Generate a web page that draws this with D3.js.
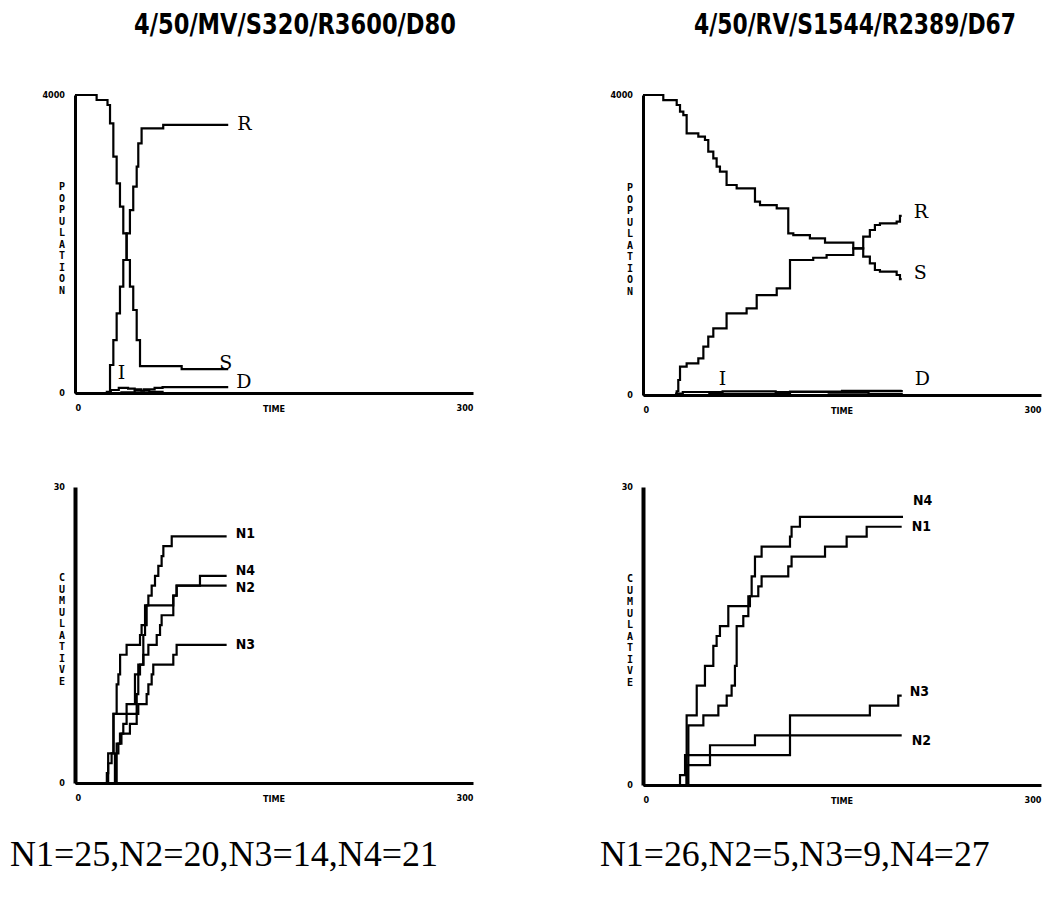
<!DOCTYPE html>
<html><head><meta charset="utf-8">
<script src="https://cdn.jsdelivr.net/npm/d3@7"></script>
<style>body{margin:0;background:#fff}svg{display:block}</style>
</head><body><svg id="c" width="1045" height="903"></svg>
<script>
// ---------- DATA ----------
const titles = ["4/50/MV/S320/R3600/D80", "4/50/RV/S1544/R2389/D67"];
const footers = ["N1=25,N2=20,N3=14,N4=21", "N1=26,N2=5,N3=9,N4=27"];
const timeTicks = [0, 300];
const timeLabel = "TIME";
const popTicks = [0, 4000];
const cumTicks = [0, 30];
const popAxisLabel = "POPULATION";
const cumAxisLabel = "CUMULATIVE";

// top-left (MV): [time, count]
const mvS = [[0,4000],[16.3,3933],[24.5,3866],[26.4,3620],[28.9,3172],[31.4,2814],[33.9,2501],[36.4,2143],[38.9,1785],[41.4,1427],[43.9,1114],[46.5,711],[49,360],[80.4,320],[115.5,320]];
const mvR = [[0,0],[26.4,376],[28.9,711],[31.4,1069],[33.9,1427],[36.4,1785],[38.9,2143],[41.4,2456],[43.9,2769],[46.5,3038],[47.7,3351],[50.2,3553],[66.5,3600],[115.5,3600]];
const mvI = [[0,0],[24,15],[27,40],[33,70],[40,60],[45,50],[50,30],[56,15],[66,0],[115.5,0]];
const mvD = [[0,0],[35,10],[45,30],[52,50],[60,70],[66,80],[115.5,80]];

// top-right (RV)
const rvS = [[0,4000],[15.3,3933],[25.4,3867],[27.9,3778],[30.4,3733],[32.9,3489],[41.7,3444],[46.7,3400],[49.2,3244],[53,3156],[55.5,3044],[58,2978],[63,2800],[70.6,2756],[84.4,2578],[88.2,2533],[100.8,2489],[109.5,2156],[113.3,2133],[125.8,2089],[137.2,2031],[158.5,1956],[166,1844],[171,1756],[174.8,1667],[178.6,1644],[191.2,1600],[193.7,1544],[195,1544]];
const rvR = [[0,0],[25.4,50],[26.6,200],[27.9,378],[32.9,422],[41.7,489],[45.5,644],[49.2,778],[53,889],[63,1089],[78.1,1156],[85.7,1333],[100.8,1422],[110.8,1800],[128.3,1830],[138.4,1867],[158.5,1956],[166,2111],[171,2200],[174.8,2267],[178.6,2289],[191.2,2311],[193.7,2389],[195,2389]];
const rvI = [[0,0],[25,20],[30,40],[60,50],[100,40],[140,30],[170,15],[195,0]];
const rvD = [[0,0],[50,15],[110.8,45],[150,55],[195,67]];

// bottom-left (MV) cumulative
const mvN1 = [[0,0],[25,2],[27.6,3],[29,7],[31.4,10],[32.7,11],[34,13],[38.9,14],[49,15],[50.2,16],[52.8,18],[55.3,19],[57.8,20],[60.3,21],[62.8,22],[65.3,23],[66.6,24],[72.9,25],[114.3,25]];
const mvN2 = [[0,0],[31.4,4],[33.9,5],[36.4,6],[38.9,8],[45.2,11],[47.7,12],[51.5,13],[55.3,14],[61.6,15],[64.1,16],[65.3,17],[74.1,19],[76.6,20],[114.3,20]];
const mvN3 = [[0,0],[30.1,3],[32.7,4],[35,5],[41.4,6],[46.5,7],[47.7,8],[54,9],[55.3,10],[57.8,11],[59,12],[74.1,13],[76.6,14],[114.3,14]];
const mvN4 = [[0,0],[24,1],[25,3],[29,7],[46.5,9],[47.7,11],[49,12],[51.5,15],[52.8,16],[54,18],[74.1,19],[76.6,20],[94.2,21],[114.3,21]];

// bottom-right (RV) cumulative
const rvN1 = [[0,0],[34.2,6],[45.5,7],[56.8,8],[63.1,9],[66.8,10],[69.3,12],[70.6,16],[75.6,17],[79.4,19],[86.9,20],[89.4,21],[109.5,22],[112,23],[137.2,24],[153.5,25],[168.6,26],[195,26]];
const rvN2 = [[0,0],[32.9,2],[50.5,4],[84.4,5],[195,5]];
const rvN3 = [[0,0],[27.9,1],[31.7,3],[110.8,7],[171,8],[192.4,9],[195,9]];
const rvN4 = [[0,0],[32.9,7],[40.5,10],[46.7,12],[53,14],[55.5,15],[58,16],[64.3,18],[80.6,19],[81.9,21],[84.4,23],[89.4,24],[110.8,25],[112,26],[118.3,27],[196,27]];

// ---------- LAYOUT ----------
const svg = d3.select("#c");
const panels = [
  {x0:75, x1:473, yTop:95, yBot:393, ticks:popTicks, label:popAxisLabel, axisW:3,
   series:[{d:mvS,n:"S",dx:-9,dy:-5},{d:mvR,n:"R",dx:9,dy:0},{d:mvD,n:"D",dx:8,dy:-4},{d:mvI,n:null}],
   extra:[{n:"I",t:35,v:250}], serif:true},
  {x0:643, x1:1041, yTop:95, yBot:395, ticks:popTicks, label:popAxisLabel, axisW:3,
   series:[{d:rvS,n:"S",dx:12,dy:-5},{d:rvR,n:"R",dx:12,dy:-3},{d:rvD,n:"D",dx:13,dy:-10},{d:rvI,n:null}],
   extra:[{n:"I",t:60,v:200}], serif:true},
  {x0:75, x1:473, yTop:487, yBot:783, ticks:cumTicks, label:cumAxisLabel, axisW:4,
   series:[{d:mvN1,n:"N1",dx:9,dy:-2},{d:mvN4,n:"N4",dx:9,dy:-5},{d:mvN2,n:"N2",dx:9,dy:2},{d:mvN3,n:"N3",dx:9,dy:0}],
   extra:[], serif:false},
  {x0:643, x1:1041, yTop:487, yBot:785, ticks:cumTicks, label:cumAxisLabel, axisW:4,
   series:[{d:rvN1,n:"N1",dx:10,dy:0},{d:rvN4,n:"N4",dx:10,dy:-16},{d:rvN2,n:"N2",dx:10,dy:6},{d:rvN3,n:"N3",dx:8,dy:-4}],
   extra:[], serif:false}
];

panels.forEach((p) => {
  const x = d3.scaleLinear().domain(d3.extent(timeTicks)).range([p.x0, p.x1]);
  const y = d3.scaleLinear().domain(d3.extent(p.ticks)).range([p.yBot, p.yTop]);
  const g = svg.append("g");

  const line = d3.line().x(d => x(d[0])).y(d => y(d[1])).curve(d3.curveStepAfter);
  p.series.forEach(s => {
    g.append("path").attr("d", line(s.d)).attr("fill","none")
      .attr("stroke","#000").attr("stroke-width",2.2);
    if (s.n) {
      const last = s.d[s.d.length-1];
      g.append("text").attr("x", x(last[0]) + s.dx).attr("y", y(last[1]) + s.dy)
        .attr("dominant-baseline","middle")
        .attr("font-family", p.serif ? "DejaVu Serif, serif" : "DejaVu Sans Condensed, DejaVu Sans, sans-serif")
        .attr("font-weight", p.serif ? "normal" : "bold")
        .attr("font-size", p.serif ? 19 : 14).text(s.n);
    }
  });
  p.extra.forEach(e => {
    g.append("text").attr("x", x(e.t)).attr("y", y(e.v))
      .attr("dominant-baseline","middle").attr("text-anchor","middle")
      .attr("font-family","DejaVu Serif, serif").attr("font-size",19).text(e.n);
  });

  const ya = g.append("g").attr("transform", `translate(${p.x0},0)`)
    .call(d3.axisLeft(y).tickValues(p.ticks).tickSize(0).tickSizeOuter(0).tickPadding(10)
      .tickFormat(d3.format("d")));
  ya.select(".domain").attr("stroke","#000").attr("stroke-width",p.axisW);
  ya.selectAll("text").attr("font-family","DejaVu Sans Condensed, DejaVu Sans, sans-serif")
    .attr("font-weight","bold").attr("font-size",9);

  const xa = g.append("g").attr("transform", `translate(0,${p.yBot})`)
    .call(d3.axisBottom(x).tickValues(timeTicks).tickSize(0).tickSizeOuter(0).tickPadding(12)
      .tickFormat(d3.format("d")));
  xa.select(".domain").attr("stroke","#000").attr("stroke-width",3);
  xa.selectAll("text").attr("font-family","DejaVu Sans Condensed, DejaVu Sans, sans-serif")
    .attr("font-weight","bold").attr("font-size",9)
    .attr("text-anchor",(d,i) => i === 0 ? "start" : "end");
  g.append("text").attr("x",(p.x0+p.x1)/2).attr("y",p.yBot+19).attr("text-anchor","middle")
    .attr("font-family","DejaVu Sans Condensed, DejaVu Sans, sans-serif")
    .attr("font-weight","bold").attr("font-size",9).text(timeLabel);

  const chars = p.label.split("");
  const midY = (p.yTop + p.yBot)/2 - 5;
  const step = 11.5;
  chars.forEach((c,i) => {
    g.append("text").attr("x", p.x0 - 13).attr("y", midY + (i - (chars.length-1)/2)*step)
      .attr("text-anchor","middle").attr("dominant-baseline","middle")
      .attr("font-family","DejaVu Sans Mono, monospace").attr("font-weight","bold")
      .attr("font-size",10).text(c);
  });
});

// fit text horizontally via transform scale (keeps real bbox inside the page)
function fitText(sel, x0, y, width, anchor) {
  const w = sel.node().getComputedTextLength();
  const sx = width / w;
  sel.attr("x", 0).attr("y", 0).attr("text-anchor", anchor)
     .attr("transform", `translate(${x0},${y}) scale(${sx},1)`);
}
// titles
[[295, titles[0]], [855, titles[1]]].forEach(([cx, t]) => {
  const tx = svg.append("text")
    .attr("font-family","DejaVu Sans Condensed, DejaVu Sans, sans-serif").attr("font-weight","bold")
    .attr("font-size",29).text(t);
  fitText(tx, cx, 34, 322, "middle");
});
// footers
[[10, 428, footers[0]], [600, 390, footers[1]]].forEach(([x0, w, t]) => {
  const tx = svg.append("text")
    .attr("font-family","Liberation Serif, Times New Roman, serif")
    .attr("font-size",36).text(t);
  fitText(tx, x0, 866, w, "start");
});
</script></body></html>
